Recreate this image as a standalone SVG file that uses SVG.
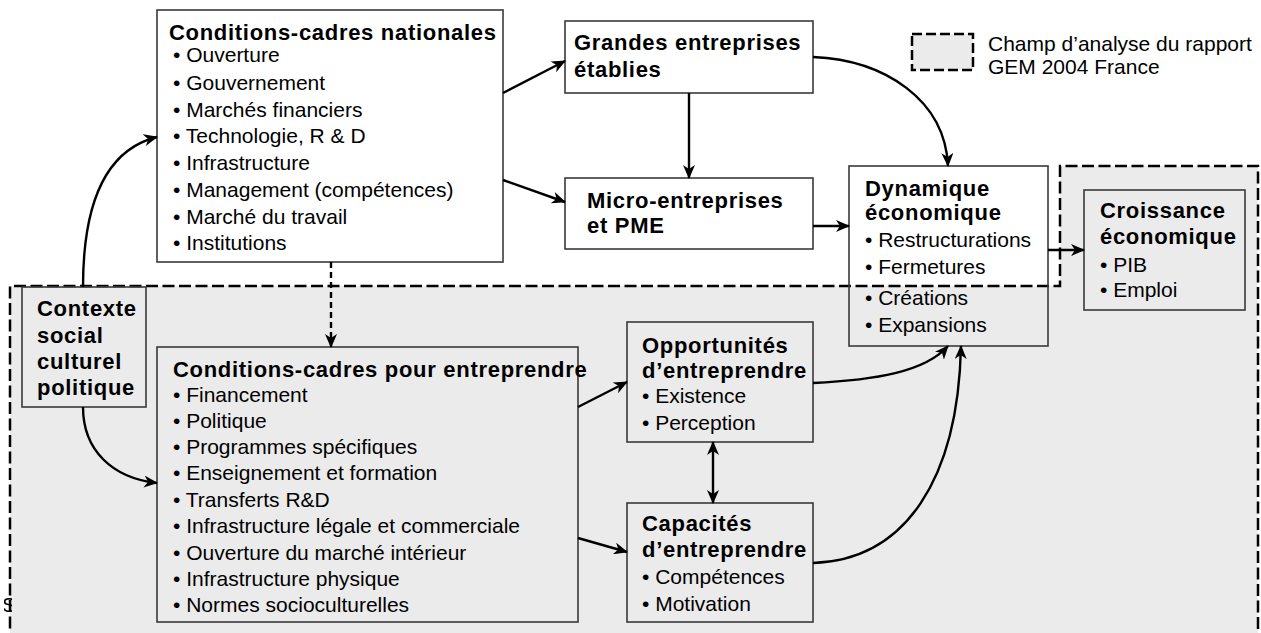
<svg xmlns="http://www.w3.org/2000/svg" width="1261" height="633" viewBox="0 0 1261 633">
  <style>
    text { font-family: "Liberation Sans", Arial, sans-serif; fill: #000; }
    .h { font-size: 22px; font-weight: bold; letter-spacing: 0.7px; }
    .b { font-size: 21px; }
    .box { fill: none; stroke: #3a3a3a; stroke-width: 1.6; }
    .wbox { fill: #fff; stroke: #3a3a3a; stroke-width: 1.6; }
    .zone { fill: #ebebeb; stroke: #000; stroke-width: 2.5; stroke-dasharray: 12 4.5; }
    .link { fill: none; stroke: #000; stroke-width: 2.4; }
    .dash { stroke-dasharray: 6 4; }
  </style>
  <defs>
    <marker id="arrow" viewBox="0 0 14 12" refX="13" refY="6" markerWidth="14" markerHeight="12" markerUnits="userSpaceOnUse" orient="auto-start-reverse">
      <path d="M0,0 L14,6 L0,12 L4,6 Z" fill="#000"/>
    </marker>
    <clipPath id="clipS">
      <rect x="4" y="590" width="8" height="30"/>
    </clipPath>
  </defs>

  <!-- analysis scope (shaded area) -->
  <g id="scope">
    <path class="zone" d="M10,645 L10,286 L1060,286 L1060,166 L1258,166 L1258,645"/>
    <text class="b" x="2" y="612" clip-path="url(#clipS)">S</text>
  </g>

  <!-- legend -->
  <g id="legend">
    <rect x="912" y="34" width="61" height="36" fill="#ebebeb" stroke="#000" stroke-width="2.5" stroke-dasharray="10 4"/>
    <text class="b" x="988" y="51">Champ d’analyse du rapport</text>
    <text class="b" x="988" y="74">GEM 2004 France</text>
  </g>

  <g id="ccn">
    <rect class="wbox" x="157" y="10" width="346" height="252"/>
    <text class="h" x="169" y="40">Conditions-cadres nationales</text>
    <text class="b" x="173" y="62">• Ouverture</text>
    <text class="b" x="173" y="90">• Gouvernement</text>
    <text class="b" x="173" y="117">• Marchés financiers</text>
    <text class="b" x="173" y="143">• Technologie, R &amp; D</text>
    <text class="b" x="173" y="170">• Infrastructure</text>
    <text class="b" x="173" y="197">• Management (compétences)</text>
    <text class="b" x="173" y="224">• Marché du travail</text>
    <text class="b" x="173" y="250">• Institutions</text>
  </g>

  <g id="grandes">
    <rect class="wbox" x="565" y="21" width="248" height="72"/>
    <text class="h" x="574" y="50">Grandes entreprises</text>
    <text class="h" x="574" y="77">établies</text>
  </g>

  <g id="micro">
    <rect class="wbox" x="565" y="178" width="248" height="71"/>
    <text class="h" x="587" y="208">Micro-entreprises</text>
    <text class="h" x="587" y="233">et PME</text>
  </g>

  <g id="dynamique">
    <rect class="box" x="849" y="166" width="199" height="180"/>
    <text class="h" x="865" y="196">Dynamique</text>
    <text class="h" x="865" y="220">économique</text>
    <text class="b" x="865" y="247">• Restructurations</text>
    <text class="b" x="865" y="274">• Fermetures</text>
    <text class="b" x="865" y="305">• Créations</text>
    <text class="b" x="865" y="332">• Expansions</text>
  </g>

  <g id="croissance">
    <rect class="box" x="1084" y="190" width="161" height="120"/>
    <text class="h" x="1100" y="218">Croissance</text>
    <text class="h" x="1100" y="244">économique</text>
    <text class="b" x="1100" y="272">• PIB</text>
    <text class="b" x="1100" y="297">• Emploi</text>
  </g>

  <g id="contexte">
    <rect class="box" x="22" y="287" width="124" height="120"/>
    <text class="h" x="37" y="316">Contexte</text>
    <text class="h" x="37" y="343">social</text>
    <text class="h" x="37" y="369">culturel</text>
    <text class="h" x="37" y="395">politique</text>
  </g>

  <g id="cce">
    <rect class="box" x="157" y="347" width="421" height="275"/>
    <text class="h" x="173" y="377">Conditions-cadres pour entreprendre</text>
    <text class="b" x="173" y="402">• Financement</text>
    <text class="b" x="173" y="428">• Politique</text>
    <text class="b" x="173" y="454">• Programmes spécifiques</text>
    <text class="b" x="173" y="480">• Enseignement et formation</text>
    <text class="b" x="173" y="507">• Transferts R&amp;D</text>
    <text class="b" x="173" y="533">• Infrastructure légale et commerciale</text>
    <text class="b" x="173" y="560">• Ouverture du marché intérieur</text>
    <text class="b" x="173" y="586">• Infrastructure physique</text>
    <text class="b" x="173" y="612">• Normes socioculturelles</text>
  </g>

  <g id="opportunites">
    <rect class="box" x="627" y="322" width="186" height="120"/>
    <text class="h" x="642" y="353">Opportunités</text>
    <text class="h" x="642" y="378">d’entreprendre</text>
    <text class="b" x="642" y="403">• Existence</text>
    <text class="b" x="642" y="430">• Perception</text>
  </g>

  <g id="capacites">
    <rect class="box" x="627" y="503" width="186" height="119"/>
    <text class="h" x="642" y="531">Capacités</text>
    <text class="h" x="642" y="557">d’entreprendre</text>
    <text class="b" x="642" y="584">• Compétences</text>
    <text class="b" x="642" y="611">• Motivation</text>
  </g>

  <!-- connectors -->
  <g id="connectors">
    <path class="link" marker-end="url(#arrow)" d="M83,287 C83,205 105,150 157,137"/>
    <path class="link" marker-end="url(#arrow)" d="M83,407 C83,450 112,478 157,483"/>
    <path class="link" marker-end="url(#arrow)" d="M503,93 L565,61"/>
    <path class="link" marker-end="url(#arrow)" d="M503,180 L565,202"/>
    <path class="link" marker-end="url(#arrow)" d="M689,93 L689,178"/>
    <path class="link" marker-end="url(#arrow)" d="M813,226 L849,226"/>
    <path class="link" marker-end="url(#arrow)" d="M813,57 C885,60 945,100 948,166"/>
    <path class="link dash" marker-end="url(#arrow)" d="M331,262 L331,347"/>
    <path class="link" marker-end="url(#arrow)" d="M578,407 L627,382"/>
    <path class="link" marker-end="url(#arrow)" d="M578,538 L627,552"/>
    <path class="link" marker-start="url(#arrow)" marker-end="url(#arrow)" d="M713,442 L713,503"/>
    <path class="link" marker-end="url(#arrow)" d="M813,383 C875,380 925,372 948,346"/>
    <path class="link" marker-end="url(#arrow)" d="M813,563 C905,560 958,480 961,346"/>
    <path class="link" marker-end="url(#arrow)" d="M1048,250 L1084,250"/>
  </g>
</svg>
